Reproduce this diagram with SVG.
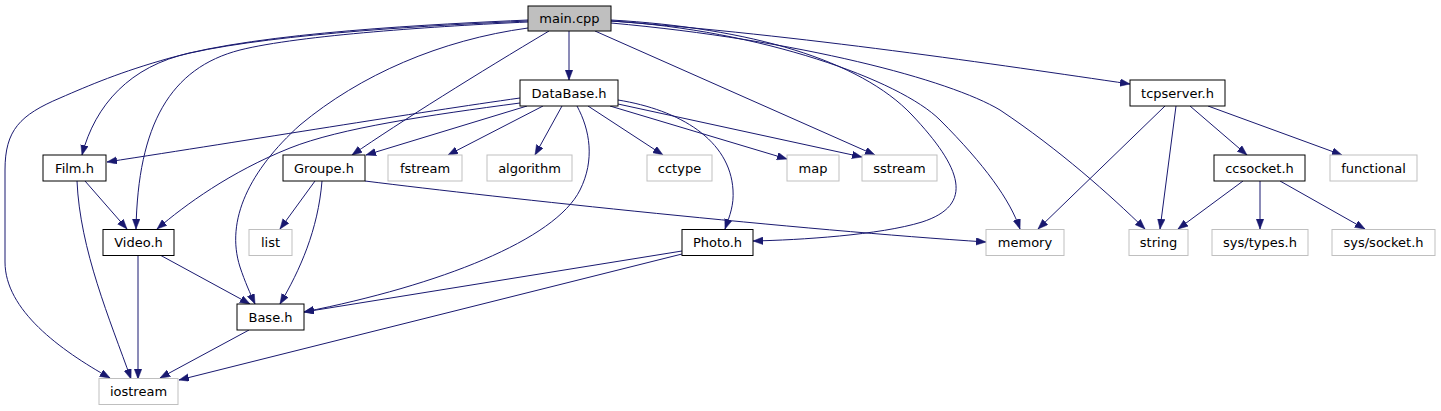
<svg xmlns="http://www.w3.org/2000/svg" width="1441" height="411" viewBox="0 0 1441 411">
<style>
.n rect{fill:#ffffff;stroke:#000000;stroke-width:1}
.root rect{fill:#bfbfbf;stroke:#000000;stroke-width:1}
.x rect{fill:#ffffff;stroke:#bfbfbf;stroke-width:1}
text{font-family:"DejaVu Sans",sans-serif;font-size:13px;fill:#000000;text-anchor:middle}
#edges path{fill:none;stroke:#191970;stroke-width:1;marker-end:url(#arr)}
</style>
<defs>
<marker id="arr" markerUnits="userSpaceOnUse" markerWidth="11" markerHeight="8" refX="10" refY="3.75" orient="auto">
<path d="M0,0 L10,3.75 L0,7.5 z" fill="#191970" stroke="#191970" stroke-width="0.5"/>
</marker>
</defs>
<rect width="1441" height="411" fill="#ffffff"/>
<g id="edges">
<path d="M569,31 L569,80"/>
<path d="M528,20 C440,24 260,32 170,58 C120,72 90,85 60,98 C20,115 5,130 5,170 L5,262 C5,310 60,350 110,378"/>
<path d="M528,21 C440,25 280,33 190,53 C130,66 95,105 82,155"/>
<path d="M528,22 C440,26 300,35 240,50 C170,68 138,125 136,229"/>
<path d="M549,31 C480,72 400,122 352,155"/>
<path d="M528,28 C440,40 360,75 300,125 C250,170 225,220 240,267 C245,282 250,293 255,304"/>
<path d="M595,31 L875,155"/>
<path d="M611,20 C750,28 860,60 912,115 C962,168 975,205 922,222 C880,235 800,240 753,241"/>
<path d="M611,21 C760,30 900,80 940,120 C985,165 1010,200 1020,229"/>
<path d="M611,23 C800,40 950,80 1000,110 C1060,150 1110,195 1145,229"/>
<path d="M611,21 C800,35 1000,65 1130,84"/>
<path d="M520,98 C420,112 250,140 107,162"/>
<path d="M527,106 L366,155"/>
<path d="M543,106 L448,155"/>
<path d="M562,106 L535,155"/>
<path d="M588,106 L663,155"/>
<path d="M610,106 L787,159"/>
<path d="M618,104 L862,157"/>
<path d="M520,103 C430,115 340,128 290,148 C230,172 185,205 157,229"/>
<path d="M577,106 C590,130 595,160 580,190 C555,240 440,285 304,312"/>
<path d="M618,100 C680,110 730,140 733,190 C734,205 730,215 725,229"/>
<path d="M85,181 L127,229"/>
<path d="M77,181 C80,250 110,320 131,379"/>
<path d="M315,181 L280,229"/>
<path d="M322,181 C318,230 300,270 280,304"/>
<path d="M365,181 C500,198 800,230 986,242"/>
<path d="M160,255 L250,304"/>
<path d="M138,255 L138,379"/>
<path d="M682,251 L304,312"/>
<path d="M682,254 L179,380"/>
<path d="M249,330 L160,378"/>
<path d="M1165,106 L1038,229"/>
<path d="M1176,106 L1160,229"/>
<path d="M1190,106 L1247,155"/>
<path d="M1208,106 L1342,155"/>
<path d="M1243,181 L1178,229"/>
<path d="M1260,181 L1260,229"/>
<path d="M1280,181 L1365,229"/>
</g>
<g id="main_cpp" class="root"><rect x="528" y="6" width="83" height="25"/><text x="569.5" y="23">main.cpp</text></g>
<g id="DataBase_h" class="n"><rect x="520" y="80" width="98" height="26"/><text x="569" y="97.5">DataBase.h</text></g>
<g id="tcpserver_h" class="n"><rect x="1130" y="80" width="95" height="26"/><text x="1177.5" y="97.5">tcpserver.h</text></g>
<g id="Film_h" class="n"><rect x="43" y="155" width="63" height="26"/><text x="74.5" y="172.5">Film.h</text></g>
<g id="Groupe_h" class="n"><rect x="283" y="155" width="82" height="26"/><text x="324" y="172.5">Groupe.h</text></g>
<g id="fstream" class="x"><rect x="388" y="155" width="74" height="26"/><text x="425" y="172.5">fstream</text></g>
<g id="algorithm" class="x"><rect x="487" y="155" width="85" height="26"/><text x="529.5" y="172.5">algorithm</text></g>
<g id="cctype" class="x"><rect x="647" y="155" width="65" height="26"/><text x="679.5" y="172.5">cctype</text></g>
<g id="map" class="x"><rect x="787" y="155" width="52" height="26"/><text x="813" y="172.5">map</text></g>
<g id="sstream" class="x"><rect x="862" y="155" width="75" height="26"/><text x="899.5" y="172.5">sstream</text></g>
<g id="ccsocket_h" class="n"><rect x="1214" y="155" width="91" height="26"/><text x="1259.5" y="172.5">ccsocket.h</text></g>
<g id="functional" class="x"><rect x="1330" y="155" width="87" height="26"/><text x="1373.5" y="172.5">functional</text></g>
<g id="Video_h" class="n"><rect x="103" y="229.5" width="71" height="26"/><text x="138.5" y="247">Video.h</text></g>
<g id="list" class="x"><rect x="249" y="229.5" width="43" height="26"/><text x="270.5" y="247">list</text></g>
<g id="Photo_h" class="n"><rect x="682" y="229.5" width="71" height="26"/><text x="717.5" y="247">Photo.h</text></g>
<g id="memory" class="x"><rect x="986" y="229.5" width="78" height="26"/><text x="1025" y="247">memory</text></g>
<g id="string" class="x"><rect x="1129" y="229.5" width="59" height="26"/><text x="1158.5" y="247">string</text></g>
<g id="sys_types_h" class="x"><rect x="1212" y="229.5" width="96" height="26"/><text x="1260" y="247">sys/types.h</text></g>
<g id="sys_socket_h" class="x"><rect x="1332" y="229.5" width="103" height="26"/><text x="1383.5" y="247">sys/socket.h</text></g>
<g id="Base_h" class="n"><rect x="237" y="304" width="67" height="26"/><text x="270.5" y="321.5">Base.h</text></g>
<g id="iostream" class="x"><rect x="99" y="378.5" width="79" height="26"/><text x="138.5" y="396">iostream</text></g>
</svg>
